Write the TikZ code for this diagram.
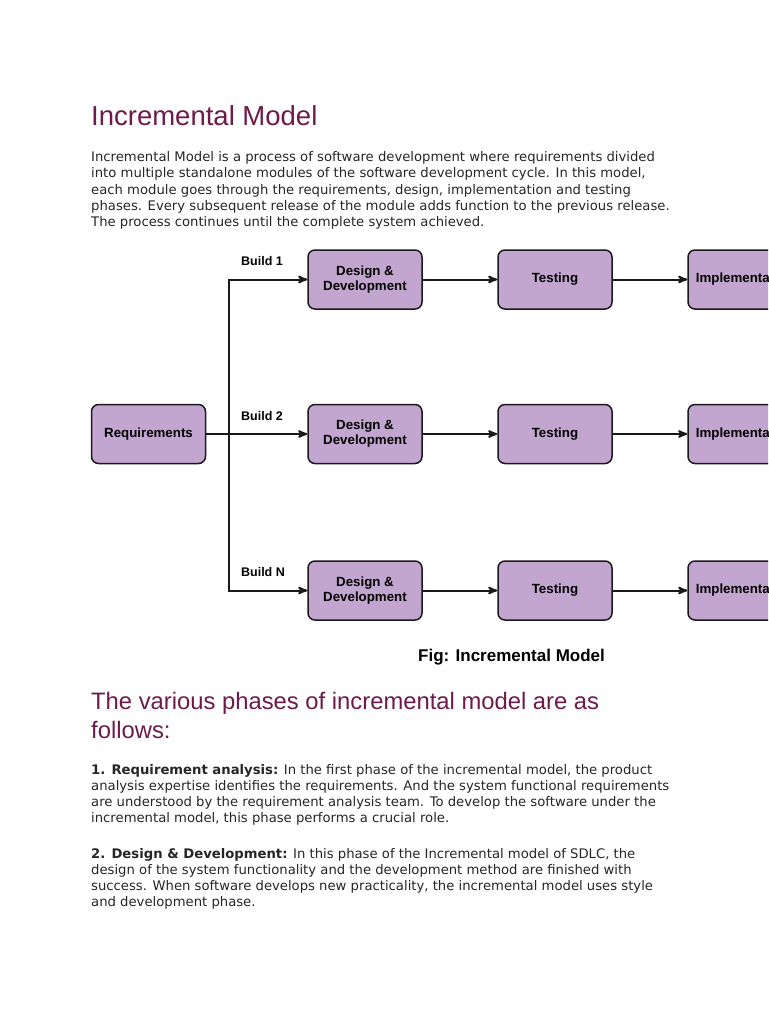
\documentclass[tikz,border=0pt]{standalone}
\usepackage{fontspec}
\setmainfont{DejaVu Sans}
\newfontfamily\headfont{Liberation Sans}
\usepackage{xcolor}
\definecolor{colorHeading}{HTML}{6E1A4A}
\definecolor{colorPhase}{HTML}{C3A6CF}
\colorlet{colorEdge}{black!90}
\colorlet{colorText}{black!85}
\usetikzlibrary{arrows, positioning}
\tikzset{
  phase/.style={draw=colorEdge, fill=colorPhase, line width=1.5pt, rounded corners=7pt, minimum width=114pt, minimum height=59pt, inner sep=0pt, align=center, font=\headfont\bfseries\fontsize{13.3}{15}\selectfont},
  flow/.style={->, line width=2pt, colorEdge},
  build/.style={font=\headfont\bfseries\fontsize{12.5}{14}\selectfont},
  heading/.style={anchor=base west, align=left, inner sep=0pt, text=colorHeading},
  body/.style={anchor=base west, align=left, inner sep=0pt, text=colorText, font=\fontsize{13.2}{16}\selectfont}
}

\begin{document}
\begin{tikzpicture}[x=1pt, y=-1pt, >=stealth', node distance=74.5pt]
\clip (0,0) rectangle (768,1024);
\fill[white] (0,0) rectangle (768,1024);
% text above the figure (base = last line)
\node[heading, font=\headfont\fontsize{27.5}{30}\selectfont] (title) at (91,126) {Incremental Model};
\node[body] (intro) at (91,226) {Incremental Model is a process of software development where requirements divided\\into multiple standalone modules of the software development cycle. In this model,\\each module goes through the requirements, design, implementation and testing\\phases. Every subsequent release of the module adds function to the previous release.\\The process continues until the complete system achieved.};
% the figure
\node[phase] (req) at (148.5,434) {Requirements};
\node[phase, right=101pt of req] (dd2) {Design \&\\Development};
\node[phase, above=94pt of dd2] (dd1) {Design \&\\Development};
\node[phase, below=96pt of dd2] (dd3) {Design \&\\Development};
\foreach \r in {1,2,3} {
  \node[phase, right=of dd\r] (tst\r) {Testing};
  \node[phase, right=of tst\r] (impl\r) {Implementation};
}
\coordinate[right=23pt of req] (fork);
\draw[flow] (req) -- (dd2);
\draw[flow] (fork) |- (dd1);
\draw[flow] (fork) |- (dd3);
\foreach \r in {1,2,3} {
  \draw[flow] (dd\r) -- (tst\r);
  \draw[flow] (tst\r) -- (impl\r);
}
\node[build] (build1) at (262,261) {Build 1};
\node[build] (build2) at (262,416) {Build 2};
\node[build] (buildN) at (263,572) {Build N};
\node[anchor=base west, inner sep=0pt, font=\headfont\bfseries\fontsize{17}{18}\selectfont] (caption) at (418,661) {Fig: Incremental Model};
% text below the figure
\node[heading, font=\headfont\fontsize{23.8}{29}\selectfont] (phases) at (91,738) {The various phases of incremental model are as\\follows:};
\node[body] (step1) at (91,822) {\textbf{1. Requirement analysis:} In the first phase of the incremental model, the product\\analysis expertise identifies the requirements. And the system functional requirements\\are understood by the requirement analysis team. To develop the software under the\\incremental model, this phase performs a crucial role.};
\node[body] (step2) at (91,906) {\textbf{2. Design \& Development:} In this phase of the Incremental model of SDLC, the\\design of the system functionality and the development method are finished with\\success. When software develops new practicality, the incremental model uses style\\and development phase.};
\end{tikzpicture}
\end{document}
